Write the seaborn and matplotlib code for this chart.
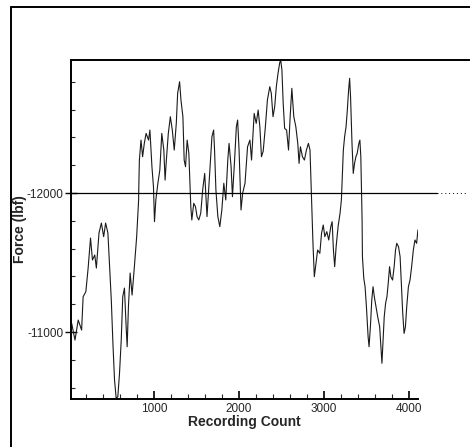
import matplotlib
matplotlib.use("Agg")
import matplotlib.pyplot as plt
from matplotlib.lines import Line2D
from matplotlib.ticker import MultipleLocator
import seaborn as sns
import pandas as pd

# Recording count (x) and force in lbf (y)
recording_count = [
    28, 67, 105, 145, 163, 195, 222, 250, 273, 300, 319, 350, 378, 405, 428, 455,
    475, 495, 514, 533, 553, 572, 592, 612, 630, 650, 670, 682, 697, 717, 740, 767,
    794, 817, 820, 826, 845, 864, 884, 905, 934, 950, 974, 992, 1004, 1020, 1044,
    1067, 1090, 1114, 1129, 1144, 1167, 1191, 1214, 1237, 1261, 1277, 1300, 1316,
    1339, 1354, 1370, 1389, 1409, 1432, 1444, 1467, 1487, 1506, 1526, 1549, 1572,
    1596, 1623, 1642, 1662, 1681, 1701, 1712, 1728, 1751, 1774, 1798, 1821, 1844,
    1868, 1883, 1907, 1923, 1946, 1969, 1984, 2001, 2024, 2043, 2071, 2101, 2129,
    2148, 2179, 2203, 2226, 2246, 2265, 2285, 2311, 2335, 2363, 2381, 2401, 2421,
    2440, 2460, 2479, 2491, 2506, 2521, 2538, 2561, 2584, 2603, 2623, 2646, 2670,
    2693, 2708, 2724, 2748, 2771, 2795, 2818, 2837, 2848, 2860, 2872, 2888, 2907,
    2927, 2953, 2973, 2993, 3012, 3035, 3058, 3082, 3098, 3113, 3128, 3145, 3168,
    3191, 3207, 3230, 3245, 3262, 3277, 3292, 3304, 3315, 3332, 3347, 3362, 3378,
    3393, 3413, 3425, 3436, 3444, 3451, 3455, 3471, 3486, 3502, 3522, 3533, 3549,
    3565, 3580, 3595, 3615, 3635, 3658, 3673, 3685, 3697, 3712, 3728, 3744, 3759,
    3775, 3790, 3810, 3829, 3845, 3860, 3880, 3899, 3915, 3930, 3946, 3962, 3977,
    3997, 4016, 4035, 4055, 4074, 4094, 4109,
]
force_lbf = [
    -11062, -10942, -11086, -11014, -11254, -11290, -11460, -11676, -11518, -11554,
    -11460, -11712, -11784, -11686, -11784, -11712, -11470, -11230, -10920, -10655,
    -10520, -10535, -10705, -10942, -11254, -11316, -11038, -10894, -11182, -11424,
    -11266, -11470, -11686, -11950, -12070, -12237, -12381, -12261, -12357, -12429,
    -12381, -12453, -12189, -12045, -11794, -11950, -12070, -12165, -12429, -12309,
    -12093, -12237, -12429, -12549, -12453, -12309, -12501, -12717, -12801, -12669,
    -12549, -12237, -12189, -12381, -12285, -11902, -11806, -11926, -11902, -11830,
    -11806, -11854, -12022, -12141, -11830, -12022, -12213, -12405, -12453, -12309,
    -12022, -11830, -11758, -11878, -12070, -11950, -12237, -12357, -12189, -11973,
    -12213, -12477, -12525, -12309, -11878, -11998, -12070, -12333, -12381, -12237,
    -12573, -12501, -12597, -12477, -12261, -12300, -12477, -12669, -12765, -12717,
    -12549, -12621, -12765, -12861, -12933, -12962, -12885, -12645, -12465, -12453,
    -12309, -12549, -12753, -12549, -12477, -12357, -12213, -12333, -12261, -12237,
    -12309, -12357, -12309, -12093, -11878, -11638, -11398, -11494, -11590, -11566,
    -11710, -11770, -11686, -11722, -11662, -11758, -11794, -11590, -11470, -11614,
    -11758, -11854, -11950, -12309, -12405, -12477, -12597, -12741, -12825, -12693,
    -12357, -12141, -12213, -12261, -12285, -12357, -12381, -12261, -12022, -11806,
    -11542, -11386, -11326, -11182, -10966, -10894, -11038, -11230, -11326, -11254,
    -11182, -11110, -11038, -10894, -10775, -10918, -11110, -11206, -11254, -11350,
    -11470, -11398, -11374, -11470, -11590, -11638, -11614, -11542, -11326, -11134,
    -10990, -11038, -11182, -11326, -11374, -11470, -11590, -11662, -11638, -11734,
]
reference_force = -12000
x_ticks = [1000, 2000, 3000, 4000]
y_ticks = [-12000, -11000]

df = pd.DataFrame({"Recording Count": recording_count, "Force (lbf)": force_lbf})

sns.set_style("ticks")
plt.rcParams["font.family"] = ["Liberation Sans", "DejaVu Sans"]
plt.rcParams["axes.unicode_minus"] = False

W, H = 470, 447
fig = plt.figure(figsize=(W / 100, H / 100), dpi=100)
L, R, T, B = 71, 418, 60, 399
ax = fig.add_axes([L / W, 1 - B / H, (R - L) / W, (B - T) / H])

sns.lineplot(data=df, x="Recording Count", y="Force (lbf)", ax=ax,
             color="#1a1a1a", linewidth=0.8, sort=False, estimator=None)

ax.set_xlim(20, 4110)
ax.set_ylim(-10518, -12957)

ax.set_xticks(x_ticks)
ax.set_xticklabels([str(v) for v in x_ticks])
ax.set_yticks(y_ticks)
ax.set_yticklabels([str(v) for v in y_ticks])
ax.xaxis.set_minor_locator(MultipleLocator(200))
ax.yaxis.set_minor_locator(MultipleLocator(200))
ax.tick_params(axis="x", which="major", direction="in", length=6, width=1.2,
               labelsize=8.5, pad=3, color="black")
ax.tick_params(axis="x", which="minor", direction="in", length=3.5, width=0.8)
ax.tick_params(axis="y", which="major", direction="inout", length=9, width=1.0,
               labelsize=8.5, pad=1, color="black")
ax.tick_params(axis="y", which="minor", direction="in", length=3, width=0.8)

ax.set_xlabel("Recording Count", fontsize=10, fontweight="bold", labelpad=0)
ax.set_ylabel("Force (lbf)", fontsize=10, fontweight="bold")
ax.yaxis.set_label_coords((27 - L) / (R - L), 0.5)

for s in ["left", "bottom"]:
    ax.spines[s].set_linewidth(1.4)
    ax.spines[s].set_color("black")
ax.spines["right"].set_visible(False)
ax.spines["top"].set_visible(False)

# reference line at -12000, extending past the plot area as in the scan
ax.plot([0, (437 - L) / (R - L)], [reference_force, reference_force],
        transform=ax.get_yaxis_transform(), color="black", linewidth=0.9,
        clip_on=False)
ax.plot([(437 - L) / (R - L), (468 - L) / (R - L)], [reference_force, reference_force],
        transform=ax.get_yaxis_transform(), color="black", linewidth=0.7,
        linestyle=(0, (1, 3)), clip_on=False)
# top border of the plot area, extending to the right edge
ax.plot([0, (470 - L) / (R - L)], [1, 1], transform=ax.transAxes,
        color="black", linewidth=1.4, clip_on=False)

# outer frame (top and left edges of the scanned page)
fig.add_artist(Line2D([11 / W, 1.0], [1 - 7 / H, 1 - 7 / H],
                      transform=fig.transFigure, color="black", linewidth=1.4))
fig.add_artist(Line2D([11 / W, 11 / W], [0, 1 - 7 / H],
                      transform=fig.transFigure, color="black", linewidth=1.4))

fig.savefig("out.png", dpi=100, facecolor="white")
